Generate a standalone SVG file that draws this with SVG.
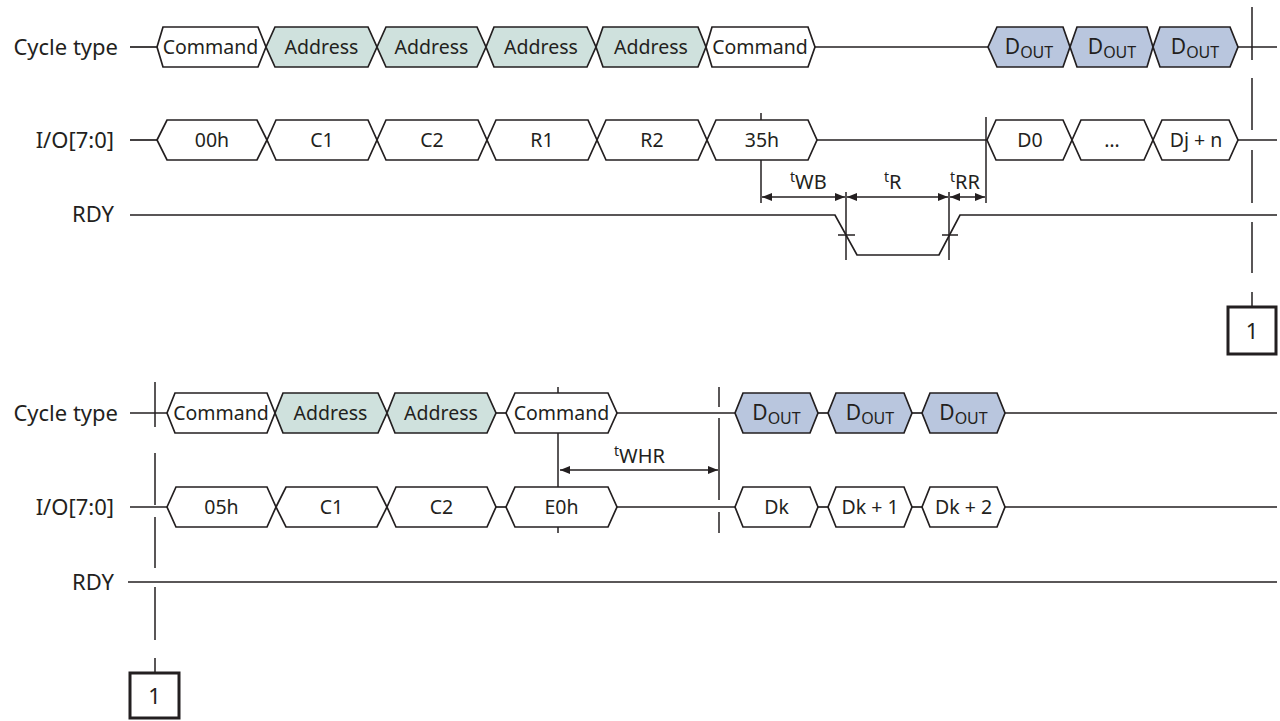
<svg xmlns="http://www.w3.org/2000/svg" width="1280" height="721" viewBox="0 0 1280 721">
<style>
.lbl{font-family:"Noto Sans","Liberation Sans",sans-serif;font-size:22px;fill:#231f20;text-anchor:end}
.t{font-family:"Noto Sans","Liberation Sans",sans-serif;font-size:19.5px;fill:#231f20;text-anchor:middle}
.d{font-family:"Noto Sans","Liberation Sans",sans-serif;font-size:21px;fill:#231f20;text-anchor:middle}
.n{font-family:"Noto Sans","Liberation Sans",sans-serif;font-size:22px;fill:#231f20;text-anchor:middle}
.tm{font-family:"Noto Sans","Liberation Sans",sans-serif;font-size:20px;fill:#231f20}
.hx{stroke:#231f20;stroke-width:1.7;stroke-linejoin:miter;fill:#fff}
.ad{fill:#cfe1dd}
.dq{fill:#b9c6de}
.ln{stroke:#231f20;stroke-width:1.7;fill:none}
.vl{stroke:#231f20;stroke-width:1.5;fill:none}
.box{stroke:#231f20;stroke-width:3;fill:#fff}
</style>
<defs>
<marker id="ah" viewBox="0 0 10 8" refX="10" refY="4" markerWidth="11" markerHeight="8" markerUnits="userSpaceOnUse" orient="auto-start-reverse">
<path d="M0,0 L10,4 L0,8 z" fill="#231f20"/>
</marker>
</defs>

<g id="labels">
<text class="lbl" x="118" y="55">Cycle type</text>
<text class="lbl" x="114" y="148">I/O[7:0]</text>
<text class="lbl" x="114" y="222">RDY</text>
<text class="lbl" x="118" y="421">Cycle type</text>
<text class="lbl" x="114" y="515">I/O[7:0]</text>
<text class="lbl" x="114" y="590">RDY</text>
</g>

<g id="connectors">
<line class="ln" x1="130" y1="47" x2="157" y2="47"/>
<line class="ln" x1="815" y1="47" x2="988" y2="47"/>
<line class="ln" x1="1238" y1="47" x2="1277" y2="47"/>
<line class="ln" x1="130" y1="140" x2="157" y2="140"/>
<line class="ln" x1="817" y1="140" x2="987" y2="140"/>
<line class="ln" x1="1238" y1="140" x2="1277" y2="140"/>
<polyline class="ln" points="130,215 835,215 857,255 939,255 960,215 1277,215"/>

<line class="ln" x1="130" y1="413" x2="167" y2="413"/>
<line class="ln" x1="496" y1="413" x2="506" y2="413"/>
<line class="ln" x1="617" y1="413" x2="735" y2="413"/>
<line class="ln" x1="818" y1="413" x2="828" y2="413"/>
<line class="ln" x1="912" y1="413" x2="922" y2="413"/>
<line class="ln" x1="1005" y1="413" x2="1277" y2="413"/>
<line class="ln" x1="130" y1="507" x2="167" y2="507"/>
<line class="ln" x1="496" y1="507" x2="506" y2="507"/>
<line class="ln" x1="617" y1="507" x2="735" y2="507"/>
<line class="ln" x1="818" y1="507" x2="828" y2="507"/>
<line class="ln" x1="912" y1="507" x2="922" y2="507"/>
<line class="ln" x1="1005" y1="507" x2="1277" y2="507"/>
<line class="ln" x1="128" y1="582" x2="1277" y2="582"/>

<line class="vl" x1="761" y1="113" x2="761" y2="120"/>
<line class="vl" x1="761" y1="160" x2="761" y2="203"/>
<line class="vl" x1="986" y1="117" x2="986" y2="203"/>
<line class="vl" x1="846" y1="192" x2="846" y2="260"/>
<line class="vl" x1="949" y1="192" x2="949" y2="260"/>
<line class="vl" x1="838" y1="235" x2="855" y2="235"/>
<line class="vl" x1="942" y1="235" x2="958" y2="235"/>
<line class="vl" x1="762" y1="197" x2="845" y2="197" marker-start="url(#ah)" marker-end="url(#ah)"/>
<line class="vl" x1="847" y1="197" x2="948" y2="197" marker-start="url(#ah)" marker-end="url(#ah)"/>
<line class="vl" x1="950" y1="197" x2="985" y2="197" marker-start="url(#ah)" marker-end="url(#ah)"/>

<line class="vl" x1="558" y1="387" x2="558" y2="393"/>
<line class="vl" x1="558" y1="433" x2="558" y2="487"/>
<line class="vl" x1="558" y1="527" x2="558" y2="533"/>
<line class="vl" x1="719" y1="387" x2="719" y2="407"/>
<line class="vl" x1="719" y1="418" x2="719" y2="500"/>
<line class="vl" x1="719" y1="512" x2="719" y2="533"/>
<line class="vl" x1="560" y1="470" x2="718" y2="470" marker-start="url(#ah)" marker-end="url(#ah)"/>

<path class="vl" d="M1252,7V60M1252,78V130M1252,150V203M1252,222V273M1252,292V307"/>
<path class="vl" d="M155,382V427M155,453V505M155,517V568M155,587V640M155,658V673"/>
</g>

<g id="timing-labels">
<text class="tm" x="790" y="189"><tspan font-size="14" dy="-7">t</tspan><tspan dy="7">WB</tspan></text>
<text class="tm" x="884" y="189"><tspan font-size="14" dy="-7">t</tspan><tspan dy="7">R</tspan></text>
<text class="tm" x="950" y="189"><tspan font-size="14" dy="-7">t</tspan><tspan dy="7">RR</tspan></text>
<text class="tm" x="614" y="463"><tspan font-size="14" dy="-7">t</tspan><tspan dy="7">WHR</tspan></text>
</g>

<g id="c1"><polygon class="hx" points="157,47 163,27 258,27 266,47 258,67 163,67"/><text class="t" x="210.5" y="54">Command</text></g>
<g id="a1"><polygon class="hx ad" points="266,47 275,27 368,27 377,47 368,67 275,67"/><text class="t" x="321.5" y="54">Address</text></g>
<g id="a2"><polygon class="hx ad" points="377,47 386,27 477,27 486,47 477,67 386,67"/><text class="t" x="431.5" y="54">Address</text></g>
<g id="a3"><polygon class="hx ad" points="486,47 494,27 587,27 596,47 587,67 494,67"/><text class="t" x="541" y="54">Address</text></g>
<g id="a4"><polygon class="hx ad" points="596,47 603,27 698,27 706,47 698,67 603,67"/><text class="t" x="651" y="54">Address</text></g>
<g id="c2"><polygon class="hx" points="706,47 712,27 808,27 815,47 808,67 712,67"/><text class="t" x="760" y="54">Command</text></g>
<g id="d1"><polygon class="hx dq" points="988,47 997,27 1063,27 1070,47 1063,67 997,67"/><text class="d" x="1029" y="54">D<tspan font-size="16" dy="4">OUT</tspan></text></g>
<g id="d2"><polygon class="hx dq" points="1070,47 1077,27 1147,27 1153,47 1147,67 1077,67"/><text class="d" x="1112" y="54">D<tspan font-size="16" dy="4">OUT</tspan></text></g>
<g id="d3"><polygon class="hx dq" points="1153,47 1160,27 1230,27 1238,47 1230,67 1160,67"/><text class="d" x="1195" y="54">D<tspan font-size="16" dy="4">OUT</tspan></text></g>

<g id="io00"><polygon class="hx" points="157,140 167,120 257,120 267,140 257,160 167,160"/><text class="t" x="212" y="147">00h</text></g>
<g id="ioc1"><polygon class="hx" points="267,140 276,120 368,120 377,140 368,160 276,160"/><text class="t" x="322" y="147">C1</text></g>
<g id="ioc2"><polygon class="hx" points="377,140 386,120 478,120 487,140 478,160 386,160"/><text class="t" x="432" y="147">C2</text></g>
<g id="ior1"><polygon class="hx" points="487,140 496,120 588,120 597,140 588,160 496,160"/><text class="t" x="542" y="147">R1</text></g>
<g id="ior2"><polygon class="hx" points="597,140 606,120 698,120 707,140 698,160 606,160"/><text class="t" x="652" y="147">R2</text></g>
<g id="io35"><polygon class="hx" points="707,140 716,120 808,120 817,140 808,160 716,160"/><text class="t" x="762" y="147">35h</text></g>
<g id="iod0"><polygon class="hx" points="987,140 996,120 1063,120 1072,140 1063,160 996,160"/><text class="t" x="1030" y="147">D0</text></g>
<g id="iodots"><polygon class="hx" points="1072,140 1081,120 1144,120 1153,140 1144,160 1081,160"/><text class="t" x="1112" y="147">…</text></g>
<g id="iodj"><polygon class="hx" points="1153,140 1162,120 1229,120 1238,140 1229,160 1162,160"/><text class="t" x="1196" y="147">Dj + n</text></g>

<g id="bc1"><polygon class="hx" points="167,413 175,393 267,393 275,413 267,433 175,433"/><text class="t" x="221" y="420">Command</text></g>
<g id="ba1"><polygon class="hx ad" points="275,413 283,393 378,393 387,413 378,433 283,433"/><text class="t" x="330.5" y="420">Address</text></g>
<g id="ba2"><polygon class="hx ad" points="387,413 395,393 487,393 496,413 487,433 395,433"/><text class="t" x="441" y="420">Address</text></g>
<g id="bc2"><polygon class="hx" points="506,413 515,393 608,393 617,413 608,433 515,433"/><text class="t" x="561.5" y="420">Command</text></g>
<g id="bd1"><polygon class="hx dq" points="735,413 743,393 810,393 818,413 810,433 743,433"/><text class="d" x="776.5" y="420">D<tspan font-size="16" dy="4">OUT</tspan></text></g>
<g id="bd2"><polygon class="hx dq" points="828,413 836,393 904,393 912,413 904,433 836,433"/><text class="d" x="870" y="420">D<tspan font-size="16" dy="4">OUT</tspan></text></g>
<g id="bd3"><polygon class="hx dq" points="922,413 930,393 997,393 1005,413 997,433 930,433"/><text class="d" x="963.5" y="420">D<tspan font-size="16" dy="4">OUT</tspan></text></g>

<g id="bio05"><polygon class="hx" points="167,507 176,487 267,487 276,507 267,527 176,527"/><text class="t" x="221.5" y="514">05h</text></g>
<g id="bioc1"><polygon class="hx" points="276,507 286,487 377,487 387,507 377,527 286,527"/><text class="t" x="331.5" y="514">C1</text></g>
<g id="bioc2"><polygon class="hx" points="387,507 396,487 487,487 496,507 487,527 396,527"/><text class="t" x="441.5" y="514">C2</text></g>
<g id="bioe0"><polygon class="hx" points="506,507 515,487 608,487 617,507 608,527 515,527"/><text class="t" x="561.5" y="514">E0h</text></g>
<g id="biodk"><polygon class="hx" points="735,507 743,487 810,487 818,507 810,527 743,527"/><text class="t" x="776.5" y="514">Dk</text></g>
<g id="biodk1"><polygon class="hx" points="828,507 836,487 904,487 912,507 904,527 836,527"/><text class="t" x="870" y="514">Dk + 1</text></g>
<g id="biodk2"><polygon class="hx" points="922,507 930,487 997,487 1005,507 997,527 930,527"/><text class="t" x="963.5" y="514">Dk + 2</text></g>

<g id="ref1-top"><rect class="box" x="1228" y="307" width="48" height="47"/><text class="n" x="1252" y="339">1</text></g>
<g id="ref1-bottom"><rect class="box" x="130" y="673" width="49" height="45"/><text class="n" x="154.5" y="704">1</text></g>
</svg>
